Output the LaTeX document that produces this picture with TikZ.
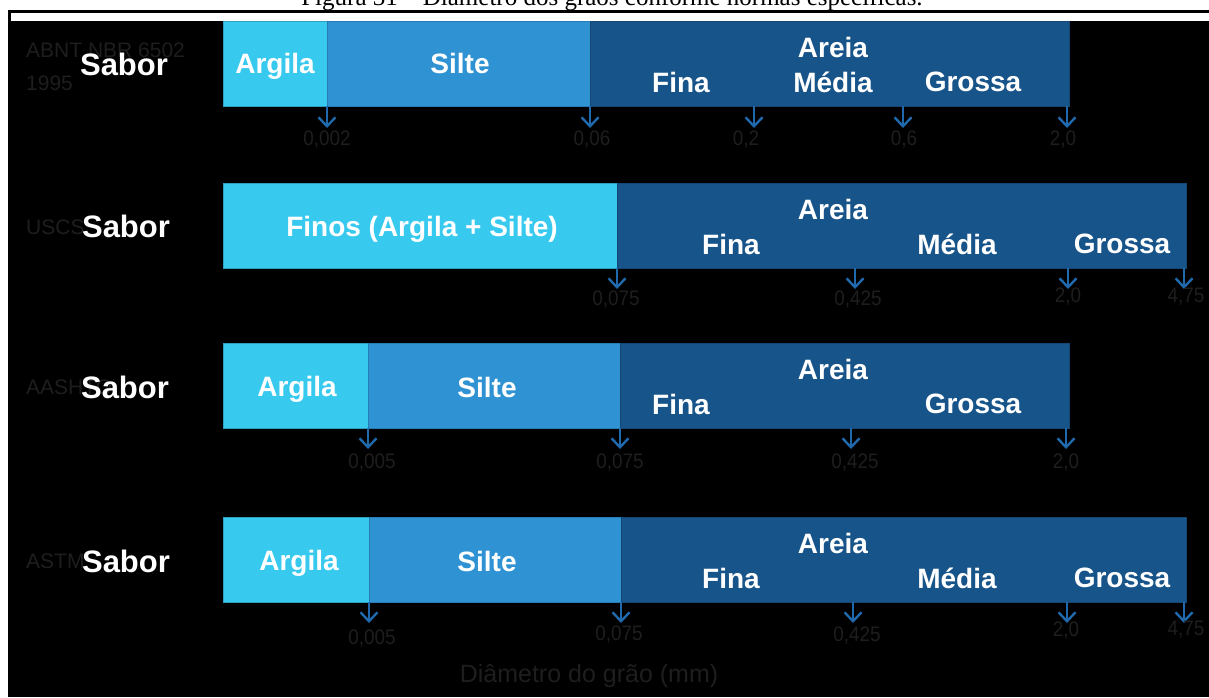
\documentclass[tikz,border=0pt]{standalone}
\usepackage{fontspec}
\setmainfont{Liberation Serif}
\setsansfont{Liberation Sans}
\newfontfamily\estreita{Liberation Sans}[FakeStretch=0.9]
\usepackage{xcolor}
\usepackage{tikz}
\usetikzlibrary{arrows.meta}

\definecolor{argila}{HTML}{38C9EF}
\definecolor{silte}{HTML}{2E92D3}
\definecolor{areia}{HTML}{175489}
\definecolor{seta}{HTML}{1F69AC}
\definecolor{apagado}{HTML}{1E1E1E}

\begin{document}
\begin{tikzpicture}[x=1pt, y=-1pt,
    rotulo/.style={text=white, inner sep=0pt, text depth=0pt, font=\sffamily\bfseries\fontsize{28}{28}\selectfont},
    sabor/.style={text=white, inner sep=0pt, text depth=0pt, font=\sffamily\bfseries\fontsize{31}{31}\selectfont},
    norma/.style={text=apagado, anchor=west, inner sep=0pt, font=\sffamily\fontsize{21}{21}\selectfont},
    valor/.style={text=apagado, inner sep=0pt, font=\estreita\fontsize{21}{21}\selectfont},
    seta/.style={draw=seta, line width=2.4pt, -{Straight Barb[length=9pt,width=17pt]}}]
        \useasboundingbox (0, 0) rectangle (1209, 697);
        \begin{scope}
        \clip (0, 0) rectangle (1209, 697);
        \node[anchor=base, inner sep=0pt, font=\rmfamily\fontsize{25}{25}\selectfont] (titulo)
            at (612, 5) {Figura 31 -- Diâmetro dos grãos conforme normas específicas.};
        \end{scope}
        \fill[black] (8, 10) rectangle (1209, 697);
        \fill[white] (11, 13) rectangle (1209, 20.5);

        % ABNT NBR 6502
        \filldraw[fill = argila, draw = argila!80!black] (223, 21) rectangle (327, 106);
        \filldraw[fill = silte, draw = silte!85!black] (327, 21) rectangle (590, 106);
        \filldraw[fill = areia, draw = areia!85!black] (590, 21) rectangle (1069, 106);
        \node[norma] (n1) at (26, 50) {ABNT NBR 6502};
        \node[norma] (n1b) at (26, 83) {1995};
        \node[sabor] (s1) at (124, 64) {Sabor};
        \node[rotulo] (a1) at (275, 63) {Argila};
        \node[rotulo] (b1) at (460, 63) {Silte};
        \node[rotulo] (c1) at (833, 47) {Areia};
        \node[rotulo] (f1) at (681, 82) {Fina};
        \node[rotulo] (m1) at (833, 82) {Média};
        \node[rotulo] (g1) at (973, 82) {Grossa};
        \coordinate (p11) at (327, 106);  \coordinate (q11) at (327, 128);
        \coordinate (p12) at (590, 106);  \coordinate (q12) at (590, 128);
        \coordinate (p13) at (754, 106);  \coordinate (q13) at (754, 128);
        \coordinate (p14) at (903, 106);  \coordinate (q14) at (903, 128);
        \coordinate (p15) at (1067, 106); \coordinate (q15) at (1067, 128);
        \draw[seta] (p11) -- (q11);
        \draw[seta] (p12) -- (q12);
        \draw[seta] (p13) -- (q13);
        \draw[seta] (p14) -- (q14);
        \draw[seta] (p15) -- (q15);
        \node[valor] (v11) at (327, 140) {0,002};
        \node[valor] (v12) at (592, 140) {0,06};
        \node[valor] (v13) at (746, 140) {0,2};
        \node[valor] (v14) at (904, 140) {0,6};
        \node[valor] (v15) at (1063, 140) {2,0};

        % USCS
        \filldraw[fill = argila, draw = argila!80!black] (223, 183) rectangle (617, 268);
        \filldraw[fill = areia, draw = areia!85!black] (617, 183) rectangle (1186, 268);
        \node[norma] (n2) at (26, 227) {USCS};
        \node[sabor] (s2) at (126, 226) {Sabor};
        \node[rotulo] (a2) at (422, 226) {Finos (Argila + Silte)};
        \node[rotulo] (c2) at (833, 209) {Areia};
        \node[rotulo] (f2) at (731, 244) {Fina};
        \node[rotulo] (m2) at (957, 244) {Média};
        \node[rotulo] (g2) at (1122, 244) {Grossa};
        \coordinate (p21) at (617, 268);  \coordinate (q21) at (617, 289);
        \coordinate (p22) at (855, 268);  \coordinate (q22) at (855, 289);
        \coordinate (p23) at (1068, 268); \coordinate (q23) at (1068, 289);
        \coordinate (p24) at (1184, 268); \coordinate (q24) at (1184, 289);
        \draw[seta] (p21) -- (q21);
        \draw[seta] (p22) -- (q22);
        \draw[seta] (p23) -- (q23);
        \draw[seta] (p24) -- (q24);
        \node[valor] (v21) at (616, 300) {0,075};
        \node[valor] (v22) at (858, 300) {0,425};
        \node[valor] (v23) at (1068, 297) {2,0};
        \node[valor] (v24) at (1186, 297) {4,75};

        % AASHTO
        \filldraw[fill = argila, draw = argila!80!black] (223, 343) rectangle (368, 428);
        \filldraw[fill = silte, draw = silte!85!black] (368, 343) rectangle (620, 428);
        \filldraw[fill = areia, draw = areia!85!black] (620, 343) rectangle (1069, 428);
        \node[norma] (n3) at (26, 387) {AASHTO};
        \node[sabor] (s3) at (125, 387) {Sabor};
        \node[rotulo] (a3) at (297, 386) {Argila};
        \node[rotulo] (b3) at (487, 387) {Silte};
        \node[rotulo] (c3) at (833, 369) {Areia};
        \node[rotulo] (f3) at (681, 404) {Fina};
        \node[rotulo] (g3) at (973, 404) {Grossa};
        \coordinate (p31) at (368, 428);  \coordinate (q31) at (368, 449);
        \coordinate (p32) at (620, 428);  \coordinate (q32) at (620, 449);
        \coordinate (p33) at (851, 428);  \coordinate (q33) at (851, 449);
        \coordinate (p34) at (1066, 428); \coordinate (q34) at (1066, 449);
        \draw[seta] (p31) -- (q31);
        \draw[seta] (p32) -- (q32);
        \draw[seta] (p33) -- (q33);
        \draw[seta] (p34) -- (q34);
        \node[valor] (v31) at (372, 463) {0,005};
        \node[valor] (v32) at (620, 463) {0,075};
        \node[valor] (v33) at (855, 463) {0,425};
        \node[valor] (v34) at (1066, 463) {2,0};

        % ASTM
        \filldraw[fill = argila, draw = argila!80!black] (223, 517) rectangle (369, 602);
        \filldraw[fill = silte, draw = silte!85!black] (369, 517) rectangle (621, 602);
        \filldraw[fill = areia, draw = areia!85!black] (621, 517) rectangle (1186, 602);
        \node[norma] (n4) at (26, 561) {ASTM};
        \node[sabor] (s4) at (126, 561) {Sabor};
        \node[rotulo] (a4) at (299, 560) {Argila};
        \node[rotulo] (b4) at (487, 561) {Silte};
        \node[rotulo] (c4) at (833, 543) {Areia};
        \node[rotulo] (f4) at (731, 578) {Fina};
        \node[rotulo] (m4) at (957, 578) {Média};
        \node[rotulo] (g4) at (1122, 578) {Grossa};
        \coordinate (p41) at (369, 602);  \coordinate (q41) at (369, 623);
        \coordinate (p42) at (621, 602);  \coordinate (q42) at (621, 623);
        \coordinate (p43) at (853, 602);  \coordinate (q43) at (853, 623);
        \coordinate (p44) at (1067, 602); \coordinate (q44) at (1067, 623);
        \coordinate (p45) at (1184, 602); \coordinate (q45) at (1184, 623);
        \draw[seta] (p41) -- (q41);
        \draw[seta] (p42) -- (q42);
        \draw[seta] (p43) -- (q43);
        \draw[seta] (p44) -- (q44);
        \draw[seta] (p45) -- (q45);
        \node[valor] (v41) at (372, 638) {0,005};
        \node[valor] (v42) at (619, 634) {0,075};
        \node[valor] (v43) at (857, 635) {0,425};
        \node[valor] (v44) at (1066, 630) {2,0};
        \node[valor] (v45) at (1186, 630) {4,75};

        \node[text=apagado, inner sep=0pt, font=\sffamily\fontsize{25}{25}\selectfont] (eixo)
            at (589, 676) {Diâmetro do grão (mm)};
    \end{tikzpicture}
\end{document}
